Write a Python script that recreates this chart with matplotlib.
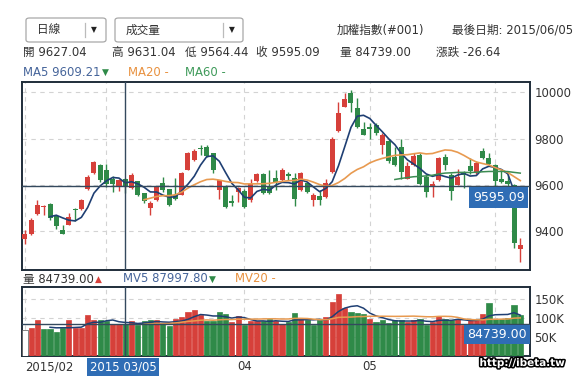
import numpy as np
import pandas as pd
import matplotlib
matplotlib.use('Agg')
import matplotlib.pyplot as plt
from matplotlib.patches import FancyBboxPatch
from matplotlib import patheffects
from matplotlib.transforms import blended_transform_factory

plt.rcParams['font.family'] = ['DejaVu Sans', 'Noto Sans CJK TC']

# Daily TAIEX candles, 2015/02/02 .. 2015/06/05
open_ = np.array([9365, 9390, 9476, 9505, 9519, 9465, 9404, 9428, 9498, 9498,
                  9581, 9653, 9685, 9663, 9627, 9591, 9627.04, 9587, 9616, 9564,
                  9499, 9535, 9607, 9581, 9557, 9557, 9665, 9708, 9760, 9766,
                  9737, 9578, 9596, 9532, 9570, 9575, 9535, 9619, 9646, 9596,
                  9629, 9622, 9648, 9629, 9578, 9607, 9535, 9552, 9547, 9657,
                  9835, 9938, 9996, 9931, 9841, 9852, 9859, 9773, 9789, 9721,
                  9764, 9627, 9688, 9731, 9635, 9590, 9620, 9721, 9642, 9601,
                  9653, 9682, 9653, 9746, 9717, 9685, 9625, 9617, 9600, 9322])
high = np.array([9404, 9457, 9534, 9515, 9524, 9469, 9428, 9480, 9500, 9541,
                 9642, 9705, 9692, 9692, 9637, 9627, 9631.04, 9650, 9619, 9567,
                 9530, 9597, 9633, 9585, 9629, 9655, 9744, 9755, 9774, 9771,
                 9740, 9622, 9600, 9555, 9591, 9583, 9624, 9650, 9650, 9665,
                 9665, 9672, 9657, 9650, 9657, 9612, 9567, 9578, 9624, 9806,
                 9960, 9999, 10010, 9975, 9873, 9869, 9866, 9823, 9800, 9764,
                 9797, 9699, 9740, 9740, 9645, 9618, 9721, 9735, 9650, 9668,
                 9659, 9717, 9705, 9760, 9740, 9689, 9665, 9643, 9605, 9370])
low = np.array([9346, 9385, 9470, 9469, 9447, 9411, 9388, 9428, 9443, 9494,
                9577, 9648, 9613, 9591, 9570, 9574, 9564.44, 9583, 9552, 9522,
                9470, 9531, 9571, 9509, 9535, 9555, 9663, 9705, 9731, 9721,
                9650, 9538, 9499, 9509, 9527, 9501, 9527, 9612, 9561, 9561,
                9578, 9617, 9622, 9509, 9574, 9566, 9509, 9514, 9543, 9653,
                9830, 9935, 9917, 9845, 9816, 9797, 9818, 9734, 9697, 9683,
                9625, 9624, 9684, 9599, 9548, 9548, 9617, 9663, 9534, 9598,
                9587, 9649, 9649, 9712, 9684, 9584, 9607, 9590, 9327, 9269])
close = np.array([9390, 9447, 9512, 9510, 9457, 9422, 9390, 9462, 9494, 9534,
                  9635, 9699, 9620, 9603, 9606.23, 9621.73, 9595.09, 9645, 9558, 9532,
                  9521, 9593, 9578, 9514, 9540, 9650, 9737, 9748, 9755, 9725,
                  9665, 9620, 9504, 9521, 9587, 9504, 9604, 9646, 9567, 9565,
                  9615, 9665, 9640, 9538, 9653, 9571, 9557, 9537, 9610, 9797,
                  9912, 9970, 9956, 9852, 9816, 9843, 9823, 9816, 9702, 9688,
                  9656, 9682, 9725, 9606, 9570, 9605, 9717, 9685, 9573, 9635,
                  9642, 9659, 9696, 9717, 9692, 9616, 9614, 9604, 9348, 9341])
volume = np.array([69000, 73700, 94000, 70000, 70000, 62000, 74600, 94000, 73700, 74000,
                   107000, 94000, 94000, 93000, 84000, 84250, 84739, 91000, 82500, 91000,
                   94000, 94000, 85000, 79000, 98000, 103000, 116000, 120000, 107000, 91000,
                   91000, 116000, 110000, 89500, 105000, 82500, 91000, 91000, 91000, 98000,
                   91000, 85000, 88000, 112000, 98000, 94000, 82500, 94000, 103000, 142000,
                   162000, 127000, 116000, 112000, 110000, 98000, 89500, 94000, 87000, 94000,
                   94000, 89500, 94000, 96000, 82500, 89500, 105000, 96500, 94000, 96500,
                   82500, 96000, 98000, 110000, 139000, 98000, 98000, 100000, 133000, 107000])

month_pos = [0, 13, 35, 55, 75]
month_labels = ['2015/02', '', '04', '05', '']
cross = 16
cross_date = '2015 03/05'
last_date = '2015/06/05'
index_name = '加權指數(#001)'

RED = '#d6403a'
GREEN = '#2f8a48'
NAVY = '#1f3f73'
ORANGE = '#e89a50'
MA60C = '#3c8c52'
LINE = '#34495e'
FRAME = '#1f2d3a'
BOXBLUE = '#2f6db5'
TXT = '#333333'
FS = 8.4

W, H = 575, 376
def fx(x):
    return x / W
def fy(y):
    return 1 - y / H

n = len(close)
idx = np.arange(n)
ma5 = pd.Series(close).rolling(5).mean().values
ma20 = pd.Series(close).rolling(20).mean().values
ma60 = pd.Series(close).rolling(60).mean().values
mv5 = pd.Series(volume).rolling(5).mean().values
mv20 = pd.Series(volume).rolling(20).mean().values

fig = plt.figure(figsize=(5.75, 3.76), dpi=100)
ax = fig.add_axes([fx(21.5), fy(270), (530 - 21.5) / W, (270 - 82) / H])
axv = fig.add_axes([fx(21.5), fy(356), (530 - 21.5) / W, (356 - 287) / H])

# candles
ccol = np.where(close >= open_, RED, GREEN)
ax.vlines(idx, low, high, colors=ccol, lw=1, zorder=3)
ax.bar(idx, np.maximum(np.abs(close - open_), 3), bottom=np.minimum(open_, close),
       width=0.8, color=ccol, zorder=4)
ax.plot(idx, ma5, color=NAVY, lw=1.2, zorder=5)
ax.plot(idx, ma20, color=ORANGE, lw=1.2, zorder=5)
ax.plot(idx, ma60, color=MA60C, lw=1.1, zorder=5)

ax.set_xlim(-0.55, 80.55)
ax.set_ylim(9233, 10045)
ax.set_yticks([9400, 9600, 9800, 10000])
ax.set_xticks(month_pos)
ax.set_xticklabels([])
ax.yaxis.tick_right()
ax.tick_params(length=0, labelsize=FS, labelcolor=TXT, pad=3)
ax.grid(True, color='#d3d3d3', lw=0.8, ls=(0, (4, 4)), zorder=0)

# volume
prev = np.r_[np.nan, close[:-1]]
vcol = np.where(np.isnan(prev), 'white', np.where(close > prev, RED, GREEN))
vedge = np.where(np.isnan(prev), '#555555', vcol)
axv.bar(idx, volume, width=0.82, color=vcol, edgecolor=vedge, lw=0.5, zorder=3)
axv.plot(idx, mv5, color=NAVY, lw=1.1, zorder=5)
axv.plot(idx, mv20, color=ORANGE, lw=1.1, zorder=5)
axv.set_xlim(-0.55, 80.55)
axv.set_ylim(0, 181000)
axv.set_yticks([50000, 100000, 150000])
axv.set_yticklabels([f'{int(v / 1000)}K' for v in [50000, 100000, 150000]])
axv.yaxis.tick_right()
axv.set_xticks(month_pos)
axv.set_xticklabels(month_labels)
axv.get_xticklabels()[0].set_ha('left')
axv.tick_params(length=0, labelsize=FS, labelcolor=TXT, pad=3)
axv.grid(True, color='#d3d3d3', lw=0.8, ls=(0, (4, 4)), zorder=0)

for a in (ax, axv):
    for s in a.spines.values():
        s.set_color(FRAME)
        s.set_linewidth(1.4)

# crosshair
ax.axvline(cross, color=LINE, lw=1, zorder=6)
ax.axhline(close[cross], color=LINE, lw=1, zorder=6)
axv.axvline(cross, color=LINE, lw=1, zorder=6)
axv.axhline(volume[cross], color=LINE, lw=1, zorder=6)

tr = blended_transform_factory(ax.transAxes, ax.transData)
ax.annotate(f'{close[cross]:.2f}', xy=(1, close[cross]), xycoords=tr,
            xytext=(-4, -3.5), textcoords='offset points', ha='right', va='top',
            color='white', fontsize=9, zorder=10,
            bbox=dict(boxstyle='square,pad=0.3', fc=BOXBLUE, ec='none'))
trv = blended_transform_factory(axv.transAxes, axv.transData)
axv.annotate(f'{volume[cross]:.2f}', xy=(1, volume[cross]), xycoords=trv,
             xytext=(-2.5, -3), textcoords='offset points', ha='right', va='top',
             color='white', fontsize=9, zorder=10,
             bbox=dict(boxstyle='square,pad=0.25', fc=BOXBLUE, ec='none'))
trx = blended_transform_factory(axv.transData, axv.transAxes)
axv.annotate(cross_date, xy=(cross, 0), xycoords=trx, xytext=(-1.5, -3),
             textcoords='offset points', ha='center', va='top', color='white',
             fontsize=FS, zorder=10, annotation_clip=False,
             bbox=dict(boxstyle='square,pad=0.2', fc=BOXBLUE, ec='none'))

# header dropdowns
for x0, x1, sep, label in [(26, 106, 85, '日線'), (115, 243, 223, '成交量')]:
    fig.patches.append(FancyBboxPatch((fx(x0), fy(42)), (x1 - x0) / W, 24 / H,
                                      boxstyle='round,pad=0,rounding_size=0.006',
                                      transform=fig.transFigure, fc='white',
                                      ec='#a8a8a8', lw=0.9))
    fig.add_artist(plt.Line2D([fx(sep), fx(sep)], [fy(23), fy(37)],
                              color='#bbbbbb', lw=0.9, transform=fig.transFigure))
    fig.text(fx(x0 + 11), fy(30), label, fontsize=FS, color=TXT, va='center')
    fig.text(fx(sep + 9), fy(30), '▼', fontsize=5.5, color='#222222',
             va='center', ha='center')

fig.text(fx(337), fy(30), index_name, fontsize=FS, color=TXT, va='center')
fig.text(fx(573), fy(30), f'最後日期: {last_date}', fontsize=FS, color=TXT,
         va='center', ha='right')

# OHLC line
chg = close[cross] - close[cross - 1]
items = [('開', open_[cross], 22.7), ('高', high[cross], 111.7), ('低', low[cross], 185),
         ('收', close[cross], 256), ('量', volume[cross], 340), ('漲跌', chg, 436)]
for lab, val, x in items:
    fig.text(fx(x), fy(52.5), f'{lab} {val:.2f}', fontsize=FS, color=TXT, va='center')

def arrow_after(t, up):
    ax.annotate('▲' if up else '▼', xy=(1, 0.5), xycoords=t, xytext=(1, 0),
                textcoords='offset points', va='center', ha='left',
                fontsize=6.5, color=RED if up else GREEN, annotation_clip=False)

t = fig.text(fx(22.7), fy(72), f'MA5 {ma5[cross]:.2f}', fontsize=FS,
             color='#45649a', va='center')
arrow_after(t, ma5[cross] > ma5[cross - 1])
fig.text(fx(128), fy(72), 'MA20 -', fontsize=FS, color='#e8913f', va='center')
fig.text(fx(185), fy(72), 'MA60 -', fontsize=FS, color='#3f9a5a', va='center')

t = fig.text(fx(22.7), fy(279), f'量 {volume[cross]:.2f}', fontsize=FS,
             color=TXT, va='center')
arrow_after(t, volume[cross] > volume[cross - 1])
t = fig.text(fx(122.7), fy(279), f'MV5 {mv5[cross]:.2f}', fontsize=FS,
             color='#45649a', va='center')
arrow_after(t, mv5[cross] > mv5[cross - 1])
fig.text(fx(235), fy(279), 'MV20 -', fontsize=FS, color='#e8913f', va='center')

fig.text(fx(565), fy(363), 'http://ibeta.tw', fontsize=7.5, fontweight='bold',
         color='white', ha='right', va='center',
         path_effects=[patheffects.withStroke(linewidth=2.2, foreground='black')])

fig.savefig('out.png', dpi=100, facecolor='white')
